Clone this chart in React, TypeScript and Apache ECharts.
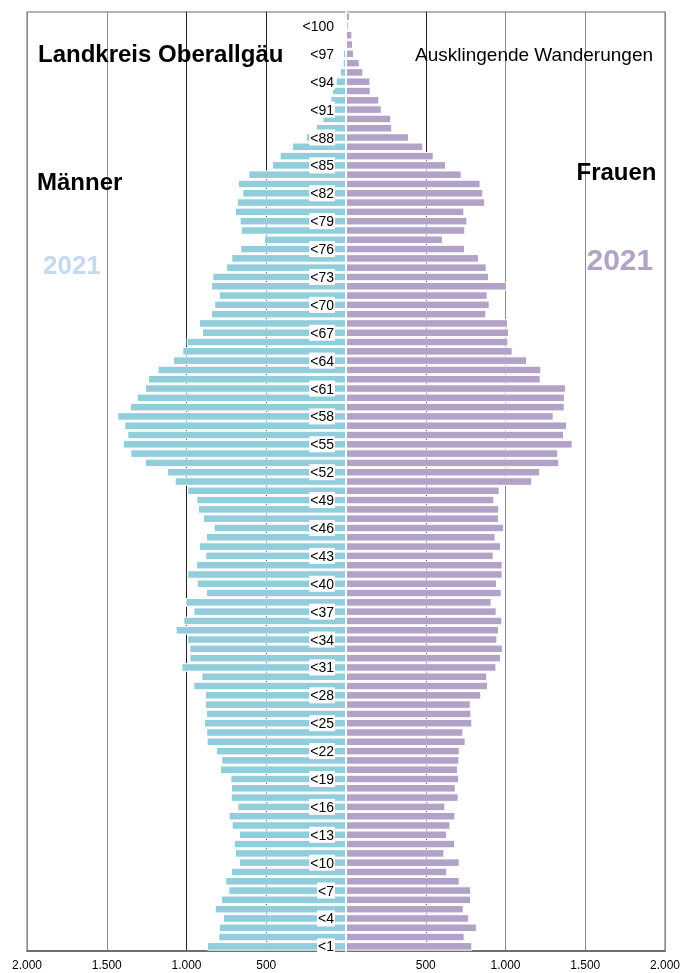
import React, { useEffect, useRef } from "react";
import * as echarts from "echarts";

// Age groups from age 0 ("<1") up to age 100 (top bar)
const ageLabels = [
  "<1", "<2", "<3", "<4", "<5", "<6", "<7", "<8", "<9", "<10",
  "<11", "<12", "<13", "<14", "<15", "<16", "<17", "<18", "<19", "<20",
  "<21", "<22", "<23", "<24", "<25", "<26", "<27", "<28", "<29", "<30",
  "<31", "<32", "<33", "<34", "<35", "<36", "<37", "<38", "<39", "<40",
  "<41", "<42", "<43", "<44", "<45", "<46", "<47", "<48", "<49", "<50",
  "<51", "<52", "<53", "<54", "<55", "<56", "<57", "<58", "<59", "<60",
  "<61", "<62", "<63", "<64", "<65", "<66", "<67", "<68", "<69", "<70",
  "<71", "<72", "<73", "<74", "<75", "<76", "<77", "<78", "<79", "<80",
  "<81", "<82", "<83", "<84", "<85", "<86", "<87", "<88", "<89", "<90",
  "<91", "<92", "<93", "<94", "<95", "<96", "<97", "<98", "<99", "<100",
  "100+",
];

// Männer, age 0 .. 100
const maenner = [
  871, 800, 796, 771, 823, 784, 738, 757, 721, 671,
  696, 704, 671, 717, 736, 681, 723, 721, 725, 790,
  782, 815, 874, 876, 890, 878, 884, 884, 957, 907,
  1032, 982, 982, 995, 1068, 1020, 957, 1007, 878, 936,
  995, 940, 882, 922, 878, 830, 896, 928, 938, 995,
  1074, 1122, 1260, 1352, 1398, 1371, 1390, 1434, 1354, 1312,
  1260, 1241, 1181, 1085, 1026, 999, 903, 922, 846, 826,
  798, 846, 838, 752, 719, 663, 514, 660, 667, 696,
  685, 650, 677, 612, 464, 416, 339, 250, 188, 148,
  125, 98, 88, 65, 38, 21, 19, 13, 6, 2,
  0,
];

// Frauen, age 0 .. 100
const frauen = [
  792, 744, 821, 773, 738, 784, 784, 713, 635, 713,
  617, 684, 633, 655, 686, 623, 706, 688, 708, 702,
  711, 713, 750, 736, 792, 786, 782, 848, 890, 886,
  943, 972, 984, 949, 959, 980, 945, 913, 976, 947,
  982, 982, 926, 972, 938, 991, 959, 961, 930, 963,
  1168, 1218, 1337, 1331, 1421, 1367, 1386, 1302, 1371, 1373,
  1379, 1221, 1225, 1135, 1045, 1018, 1022, 1016, 880, 901,
  888, 1009, 897, 882, 834, 746, 608, 748, 761, 742,
  873, 861, 844, 725, 627, 550, 485, 395, 290, 284,
  224, 209, 155, 153, 109, 86, 50, 44, 40, 17,
  25,
];

const FONT = '"Liberation Sans", Arial, sans-serif';

const GRID_LEFT = 27;
const GRID_RIGHT = 18;
const CHART_W = 683;

function fmt(v: number): string {
  if (v === 0) return "";
  return String(Math.abs(v)).replace(/\B(?=(\d{3})+(?!\d))/g, ".");
}

function txt(text: string, x: number, y: number, font: string, fill: string) {
  return {
    type: "text",
    x,
    y,
    z: 20,
    style: {
      text,
      font,
      fill,
      align: "left",
      textAlign: "left",
      verticalAlign: "middle",
      textVerticalAlign: "middle",
    },
  };
}

export default function App() {
  const ref = useRef<HTMLDivElement>(null);

  useEffect(() => {
    if (!ref.current) return;
    const chart = echarts.init(ref.current, null, { renderer: "svg" });
    const plotW = CHART_W - GRID_LEFT - GRID_RIGHT;
    chart.setOption({
      animation: false,
      grid: {
        left: GRID_LEFT,
        right: GRID_RIGHT,
        top: 12,
        bottom: 22,
        containLabel: false,
        outerBoundsMode: "none",
        show: true,
        borderColor: "#9a9a9a",
        borderWidth: 1.5,
        backgroundColor: "transparent",
      },
      xAxis: {
        type: "value",
        min: -2000,
        max: 2000,
        interval: 500,
        axisLine: { show: true, onZero: false, lineStyle: { color: "#595959", width: 1.5 } },
        axisTick: { show: false },
        axisLabel: {
          formatter: (v: number) => fmt(v),
          fontSize: 12,
          color: "#000",
          fontFamily: FONT,
          margin: 8,
        },
        splitLine: {
          show: true,
          lineStyle: {
            width: 1,
            color: [
              "#8a8a8a", "#8a8a8a", "#222", "#222", "rgba(0,0,0,0)",
              "#222", "#8a8a8a", "#8a8a8a", "#8a8a8a",
            ],
          },
        },
      },
      yAxis: {
        type: "category",
        data: ageLabels,
        position: "left",
        offset: -plotW / 2,
        z: 10,
        axisLine: { show: true, onZero: false, lineStyle: { color: "#ffffff", width: 2 } },
        axisTick: { show: false },
        splitLine: { show: false },
        axisLabel: {
          interval: (i: number) => i % 3 === 0 && i < 100,
          fontSize: 14,
          fontFamily: FONT,
          color: "#000",
          backgroundColor: "#fff",
          padding: [1, 1, 1, 1],
          margin: 11,
        },
      },
      series: [
        {
          name: "Männer",
          type: "bar",
          data: maenner.map((v) => -v),
          barCategoryGap: "8%",
          barGap: "-100%",
          itemStyle: { color: "#92CDDC", borderColor: "#ffffff", borderWidth: 1 },
        },
        {
          name: "Frauen",
          type: "bar",
          data: frauen,
          barCategoryGap: "8%",
          barGap: "-100%",
          itemStyle: { color: "#B3A2C7", borderColor: "#ffffff", borderWidth: 1 },
        },
      ],
      graphic: [
        txt("Landkreis Oberallgäu", 38, 53, `bold 24px ${FONT}`, "#000"),
        txt("Ausklingende Wanderungen", 415, 54.5, `19px ${FONT}`, "#000"),
        txt("Männer", 37, 181.5, `bold 24px ${FONT}`, "#000"),
        txt("Frauen", 576.5, 171.3, `bold 24px ${FONT}`, "#000"),
        txt("2021", 43, 264.5, `bold 26px ${FONT}`, "#C6D9F1"),
        txt("2021", 586.5, 259.5, `bold 30px ${FONT}`, "#B3A2C7"),
      ],
    });
    return () => chart.dispose();
  }, []);

  return (
    <div
      ref={ref}
      style={{ position: "fixed", left: 0, top: 0, width: 683, height: 973 }}
    />
  );
}
